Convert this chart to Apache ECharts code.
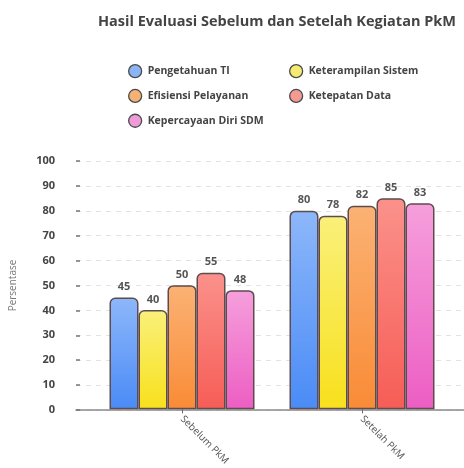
<!DOCTYPE html>
<html>
<head>
<meta charset="utf-8">
<script src="https://cdn.jsdelivr.net/npm/echarts@6/dist/echarts.min.js"></script>
<style>
  html, body { margin: 0; padding: 0; background: #fff; }
  #chart { width: 464px; height: 468px; }
</style>
</head>
<body>
<div id="chart"></div>
<script>
// data
var categories = ['Sebelum PkM', 'Setelah PkM']
var pengetahuanTI = [45, 80]
var keterampilanSistem = [40, 78]
var efisiensiPelayanan = [50, 82]
var ketepatanData = [55, 85]
var kepercayaanDiri = [48, 83]
var yTicks = [0, 10, 20, 30, 40, 50, 60, 70, 80, 90, 100]

// warna gradasi [atas, bawah, legenda]
var colors = {
  'Pengetahuan TI': ['#8db7fa', '#4a8bf6', '#8ab4f6'],
  'Keterampilan Sistem': ['#faf07a', '#f8e01c', '#f6ea73'],
  'Efisiensi Pelayanan': ['#fbb274', '#f98b36', '#f5b274'],
  'Ketepatan Data': ['#fb918b', '#f65d56', '#f59a93'],
  'Kepercayaan Diri SDM': ['#f69fdc', '#ec5ec3', '#f09bd9']
}
var font = 'Open Sans'

function grad (name) {
  return new echarts.graphic.LinearGradient(0, 0, 0, 1, [
    { offset: 0, color: colors[name][0] },
    { offset: 1, color: colors[name][1] }
  ])
}

function makeSeries (name, values) {
  return {
    name: name,
    type: 'bar',
    xAxisIndex: 1,
    yAxisIndex: 1,
    barWidth: 29,
    barGap: '0%',
    data: values,
    itemStyle: {
      color: grad(name),
      borderColor: '#5e4b4d',
      borderWidth: 1.5,
      borderRadius: [5, 5, 0, 0]
    },
    label: {
      show: true,
      position: 'top',
      distance: 5,
      color: '#555',
      fontSize: 11,
      fontWeight: 'bold',
      fontFamily: font
    }
  }
}

function legendItem (name) {
  return { name: name, itemStyle: { color: colors[name][2], borderColor: '#4a4a4a', borderWidth: 1.3 } }
}

var legendText = { color: '#444', fontSize: 10.5, fontWeight: 'bold', fontFamily: font }

var option = {
  animation: false,
  title: {
    text: 'Hasil Evaluasi Sebelum dan Setelah Kegiatan PkM',
    left: 272,
    textAlign: 'center',
    top: 9,
    textStyle: { color: '#444', fontSize: 14.5, fontWeight: 'bold', fontFamily: font }
  },
  legend: [
    {
      orient: 'vertical',
      left: 123,
      top: 59,
      itemWidth: 15,
      itemHeight: 13,
      itemGap: 10.5,
      icon: 'circle',
      textStyle: legendText,
      data: [legendItem('Pengetahuan TI'), legendItem('Efisiensi Pelayanan'), legendItem('Kepercayaan Diri SDM')]
    },
    {
      orient: 'vertical',
      left: 284,
      top: 59,
      itemWidth: 15,
      itemHeight: 13,
      itemGap: 10.5,
      icon: 'circle',
      textStyle: legendText,
      data: [legendItem('Keterampilan Sistem'), legendItem('Ketepatan Data')]
    }
  ],
  grid: [
    // grid untuk garis bantu
    { left: 73, right: 0, top: 161, bottom: 58 },
    // grid untuk batang
    { left: 92, width: 360, top: 161, bottom: 58 }
  ],
  xAxis: [
    {
      gridIndex: 0,
      type: 'value',
      min: 0,
      max: 1,
      axisLine: { show: true, onZero: false, lineStyle: { color: '#8a8a8a', width: 1.5 } },
      axisTick: { show: false },
      axisLabel: { show: false },
      splitLine: { show: false }
    },
    {
      gridIndex: 1,
      type: 'category',
      data: categories,
      axisLine: { show: false },
      axisTick: { show: true, alignWithLabel: true, length: 4, lineStyle: { color: '#666' } },
      axisLabel: { rotate: -45, margin: 8, color: '#555', fontSize: 10, fontFamily: font }
    }
  ],
  yAxis: [
    {
      gridIndex: 0,
      type: 'value',
      min: 0,
      max: 100,
      interval: 10,
      name: 'Persentase',
      nameLocation: 'middle',
      nameGap: 58,
      nameTextStyle: { color: '#777', fontSize: 10, fontFamily: font },
      axisLine: { show: false },
      axisTick: { show: true, inside: true, length: 4, lineStyle: { color: '#777', width: 1.5 } },
      axisLabel: {
        margin: 21,
        color: '#444',
        fontSize: 11,
        fontWeight: 'bold',
        fontFamily: font,
        formatter: function (v) { return yTicks.indexOf(v) >= 0 ? v : '' }
      },
      splitLine: { show: true, lineStyle: { color: '#e2e2e2', type: [5, 5] } }
    },
    {
      gridIndex: 1,
      type: 'value',
      min: 0,
      max: 100,
      interval: 10,
      show: false
    }
  ],
  series: [
    makeSeries('Pengetahuan TI', pengetahuanTI),
    makeSeries('Keterampilan Sistem', keterampilanSistem),
    makeSeries('Efisiensi Pelayanan', efisiensiPelayanan),
    makeSeries('Ketepatan Data', ketepatanData),
    makeSeries('Kepercayaan Diri SDM', kepercayaanDiri)
  ]
}

var chart = echarts.init(document.getElementById('chart'))
chart.setOption(option)
</script>
</body>
</html>
